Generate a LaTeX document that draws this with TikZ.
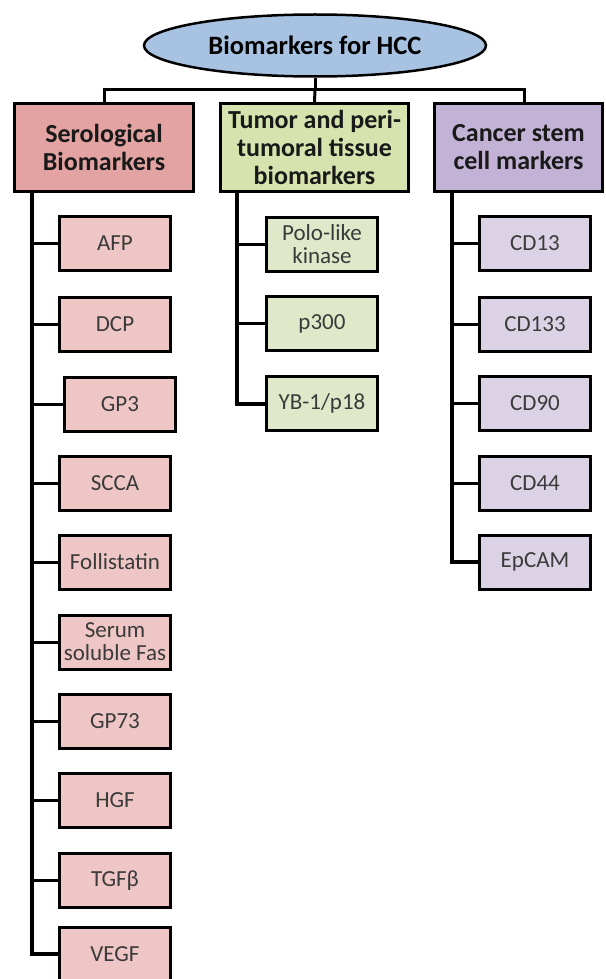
\documentclass[tikz,border=0pt]{standalone}
\usepackage{fontspec}
\setmainfont{Carlito}
\usetikzlibrary{shapes.geometric}
\definecolor{titlefill}{HTML}{A8C3E2}
\definecolor{hredfill}{HTML}{E3A3A3}
\definecolor{hgreenfill}{HTML}{D6E3AE}
\definecolor{hpurplefill}{HTML}{C2B2D5}
\definecolor{credfill}{HTML}{EFC6C6}
\definecolor{cgreenfill}{HTML}{DFE8C9}
\definecolor{cpurplefill}{HTML}{DCD2E6}
\definecolor{childtext}{HTML}{3A3A3A}
\begin{document}
\begin{tikzpicture}[x=1pt,y=-1pt,
  titlebox/.style={ellipse,draw=black,line width=2.5pt,fill=titlefill,minimum width=342pt,minimum height=62pt,inner sep=0pt,font=\fontsize{26.5}{30}\selectfont\bfseries},
  headbox/.style={rectangle,draw=black,line width=3pt,minimum height=88pt,inner sep=0pt,align=center,font=\fontsize{26}{28}\selectfont\bfseries,text=black!90},
  childbox/.style={rectangle,draw=black,line width=3pt,minimum width=111pt,minimum height=54pt,inner sep=0pt,align=center,font=\fontsize{23}{23}\selectfont,text=childtext},
  redchild/.style={childbox,fill=credfill},
  greenchild/.style={childbox,fill=cgreenfill},
  purplechild/.style={childbox,fill=cpurplefill},
  trunk/.style={draw=black,line width=4pt},
  branch/.style={draw=black,line width=3pt}]
\useasboundingbox (0,0) rectangle (605,979);

\node[titlebox] (title) at (315,45.5) {Biomarkers for HCC};

\node[headbox,fill=hredfill,minimum width=179pt] (h1) at (104,147.5) {Serological\\Biomarkers};
\node[headbox,fill=hgreenfill,minimum width=188pt] (h2) at (314.5,147.5) {Tumor and peri-\\tumoral tissue\\biomarkers};
\node[headbox,fill=hpurplefill,minimum width=168pt] (h3) at (518.5,147.5) {Cancer stem\\cell markers};

\coordinate (bar) at (315,90);
\coordinate (j3) at (524,102);
\draw[branch] (title.south) -- (bar);
\draw[branch] (h1.north) -- (h1.north |- bar) -- (bar -| j3) -- (j3);
\draw[branch] (bar) -- (h2.north);

% column 1
\node[redchild] (afp) at (115,243.5) {AFP};
\node[redchild] (dcp) at (115,324) {DCP};
\node[redchild] (gp3) at (120,404) {GP3};
\node[redchild] (scca) at (115,483.5) {SCCA};
\node[redchild] (foll) at (115,562) {Follistatin};
\node[redchild] (fas) at (115,642) {Serum\\soluble Fas};
\node[redchild] (gp73) at (115,721.5) {GP73};
\node[redchild] (hgf) at (115,800.5) {HGF};
\node[redchild] (tgf) at (115,880.5) {TGFβ};
\node[redchild] (vegf) at (115,954) {VEGF};

\coordinate (t1) at (32,193);
\draw[trunk] (t1) |- (vegf.west);
\foreach \n in {afp,dcp,gp3,scca,foll,fas,gp73,hgf,tgf}
  \draw[branch] (t1 |- \n.west) -- (\n.west);

% column 2
\node[greenchild] (polo) at (322,244) {Polo-like\\kinase};
\node[greenchild] (p300) at (322,323.5) {p300};
\node[greenchild] (yb) at (322,403.5) {YB-1/p18};

\coordinate (t2) at (237,193);
\draw[trunk] (t2) |- (yb.west);
\foreach \n in {polo,p300}
  \draw[branch] (t2 |- \n.west) -- (\n.west);

% column 3
\node[purplechild] (cd13) at (535,243.5) {CD13};
\node[purplechild] (cd133) at (535,324) {CD133};
\node[purplechild] (cd90) at (535,403) {CD90};
\node[purplechild] (cd44) at (535,483) {CD44};
\node[purplechild] (epcam) at (535,562) {EpCAM};

\coordinate (t3) at (452,193);
\draw[trunk] (t3) |- (epcam.west);
\foreach \n in {cd13,cd133,cd90,cd44}
  \draw[branch] (t3 |- \n.west) -- (\n.west);
\end{tikzpicture}
\end{document}
